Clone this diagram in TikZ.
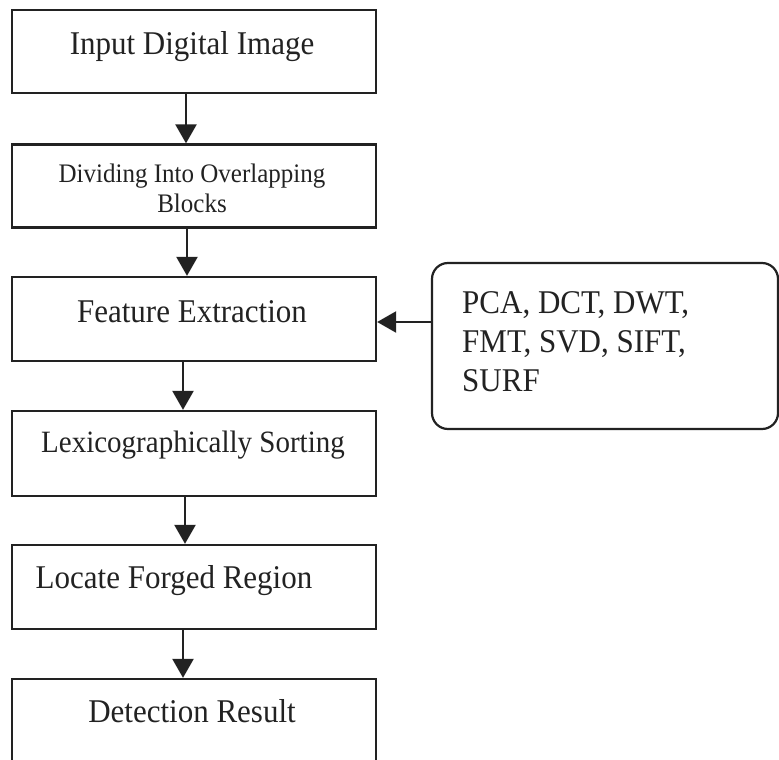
\documentclass[tikz,border=0pt]{standalone}
\usepackage{fontspec}
\usepackage{graphicx}
\setmainfont{Liberation Serif}
\usetikzlibrary{arrows.meta}
\definecolor{ink}{HTML}{222222}
\newcommand{\tallt}[1]{\scalebox{1}[1.07]{#1}}
\tikzset{
  box/.style={draw=ink, line width=2.3pt, rectangle, inner sep=0pt},
  rbox/.style={draw=ink, line width=2.2pt, rectangle, rounded corners=16pt, inner sep=0pt},
  txt/.style={anchor=base, inner sep=0pt, text=ink},
  arr/.style={draw=ink, line width=2.3pt, -{Triangle[width=21pt,length=19pt]}},
}
\begin{document}
\begin{tikzpicture}[x=1pt,y=-1pt]
\useasboundingbox (0,0) rectangle (779,760);
\clip (0,0) rectangle (779,760);
% boxes
\node[box, minimum width=364pt, minimum height=83pt] (b1) at (194,51.5) {};
\node[box, minimum width=364pt, minimum height=83pt] (b2) at (194,186) {};
\node[box, minimum width=364pt, minimum height=84pt] (b3) at (194,319) {};
\node[box, minimum width=364pt, minimum height=85pt] (b4) at (194,453.5) {};
\node[box, minimum width=364pt, minimum height=84pt] (b5) at (194,587) {};
\node[box, minimum width=364pt, minimum height=90pt] (b6) at (194,724) {};
\node[rbox, minimum width=346pt, minimum height=166pt] (rb) at (605,346) {};
% texts
\node[txt, font=\fontsize{31}{31}\selectfont] (t1) at (192,55) {\tallt{Input Digital Image}};
\node[txt, font=\fontsize{25}{30}\selectfont] (t2a) at (192,182) {\tallt{Dividing Into Overlapping}};
\node[txt, font=\fontsize{25}{30}\selectfont] (t2b) at (192,212) {\tallt{Blocks}};
\node[txt, font=\fontsize{31}{31}\selectfont] (t3) at (192,322) {\tallt{Feature Extraction}};
\node[txt, font=\fontsize{29}{29}\selectfont] (t4) at (193,452) {\tallt{Lexicographically Sorting}};
\node[txt, font=\fontsize{31}{31}\selectfont] (t5) at (174,588) {\tallt{Locate Forged Region}};
\node[txt, font=\fontsize{31}{31}\selectfont] (t6) at (192,722) {\tallt{Detection Result}};
\node[txt, anchor=base west, font=\fontsize{31}{31}\selectfont] (r1) at (462,313) {\tallt{PCA, DCT, DWT,}};
\node[txt, anchor=base west, font=\fontsize{31}{31}\selectfont] (r2) at (462,352) {\tallt{FMT, SVD, SIFT,}};
\node[txt, anchor=base west, font=\fontsize{31}{31}\selectfont] (r3) at (462,391) {\tallt{SURF}};
% arrows
\draw[arr] (b1.south -| 186,0) -- (b2.north -| 186,0);
\draw[arr] (b2.south -| 187,0) -- (b3.north -| 187,0);
\draw[arr] (b3.south -| 183,0) -- (b4.north -| 183,0);
\draw[arr] (b4.south -| 185,0) -- (b5.north -| 185,0);
\draw[arr] (b5.south -| 183,0) -- (b6.north -| 183,0);
\draw[arr] (rb.west |- 0,322) -- (b3.east |- 0,322);
\end{tikzpicture}
\end{document}
